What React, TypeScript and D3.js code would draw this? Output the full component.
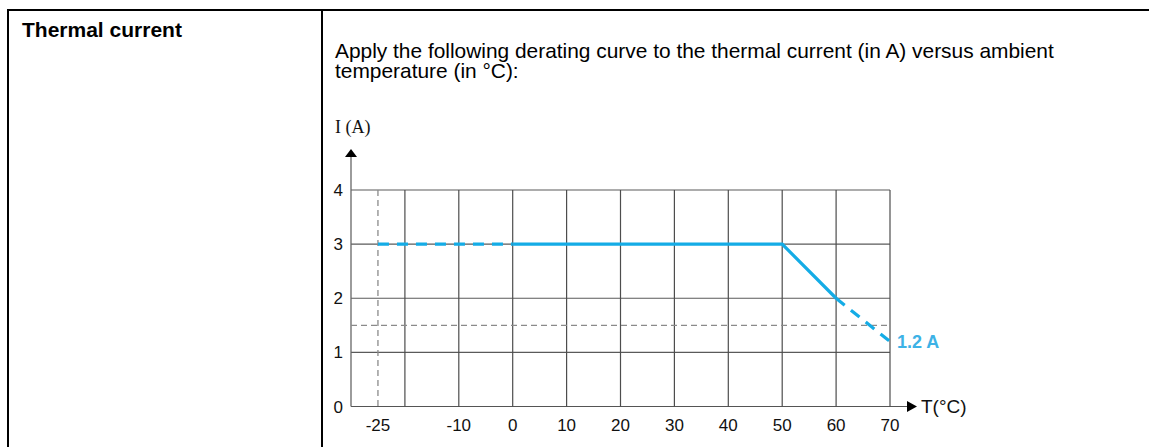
import React from "react";
import * as d3 from "d3";

// ---- data ----
const curveTemps = [-25, 0, 50, 60, 70];
const curveCurrents = [3, 3, 3, 2, 1.2];
// segment i goes from point i to point i+1; true = dashed (extrapolated) part
const curveDashed = [true, false, false, true];
const xTickLabels = [-25, -10, 0, 10, 20, 30, 40, 50, 60, 70];
const xGridValues = [-20, -10, 0, 10, 20, 30, 40, 50, 60, 70];
const yTickValues = [0, 1, 2, 3, 4];
const refTemp = -25;
const refCurrent = 1.5;
const endLabel = "1.2 A";
const rowTitle = "Thermal current";
const introLines = [
  "Apply the following derating curve to the thermal current (in A) versus ambient",
  "temperature (in °C):",
];
const yAxisTitle = "I (A)";
const xAxisTitle = "T(°C)";

const W = 1149;
const H = 447;
const SANS = "'Liberation Sans', Arial, sans-serif";
const SERIF = "'Liberation Serif', 'Times New Roman', serif";
const BLUE = "#14ace6";
const BLUE_TEXT = "#3db2e6";
const GRID = "#4d4d4d";

export default function App() {
  const x = d3.scaleLinear().domain([-30, 70]).range([351, 890]);
  const y = d3.scaleLinear().domain([0, 4]).range([406.5, 190]);
  const x0 = x(-30);
  const x1 = x(70);
  const y0 = y(0);
  const yTop = y(4);

  const line = d3
    .line<number>()
    .x((i) => x(curveTemps[i]))
    .y((i) => y(curveCurrents[i]));

  const segments: { path: string; dashed: boolean }[] = [];
  let start = 0;
  for (let s = 0; s < curveDashed.length; s++) {
    const next = s + 1 < curveDashed.length ? curveDashed[s + 1] : null;
    if (next !== curveDashed[s]) {
      const idx = d3.range(start, s + 2);
      segments.push({ path: line(idx) || "", dashed: curveDashed[s] });
      start = s + 1;
    }
  }

  const lastI = curveTemps.length - 1;

  return (
    <svg
      width={W}
      height={H}
      style={{ position: "absolute", left: 0, top: 0, background: "#fff" }}
      fontFamily={SANS}
    >
      {/* table borders */}
      <line x1={7} x2={W} y1={10} y2={10} stroke="#000" strokeWidth={2} />
      <line x1={8} x2={8} y1={9} y2={H} stroke="#000" strokeWidth={2} />
      <line x1={322} x2={322} y1={9} y2={H} stroke="#000" strokeWidth={2} />

      <text x={22} y={37} fontSize={21} fontWeight="bold" fill="#000">
        {rowTitle}
      </text>
      <text x={335} y={58} fontSize={20.9} fill="#000">
        {introLines.map((t, i) => (
          <tspan key={i} x={335} dy={i === 0 ? 0 : 19.5}>
            {t}
          </tspan>
        ))}
      </text>

      {/* grid */}
      {yTickValues.map((v) => (
        <line
          key={"h" + v}
          x1={x0}
          x2={v === 0 ? x1 + 20 : x1}
          y1={y(v)}
          y2={y(v)}
          stroke={v === 0 ? "#555" : "#5a5a5a"}
          strokeWidth={1.2}
        />
      ))}
      {xGridValues.map((v) => (
        <line
          key={"v" + v}
          x1={x(v)}
          x2={x(v)}
          y1={yTop}
          y2={y0}
          stroke={GRID}
          strokeWidth={1.2}
        />
      ))}
      {/* y axis */}
      <line x1={x0} x2={x0} y1={y0} y2={157} stroke="#666" strokeWidth={1.3} />
      <path d={`M${x0 - 6},${157} L${x0 + 6},${157} L${x0},${149} Z`} fill="#000" />
      {/* x axis arrow */}
      <path d={`M${x1 + 17},${y0 - 5.5} L${x1 + 17},${y0 + 5.5} L${x1 + 27},${y0} Z`} fill="#000" />

      {/* reference dashed lines */}
      <line
        x1={x(refTemp)}
        x2={x(refTemp)}
        y1={yTop}
        y2={y0}
        stroke="#8a8a8a"
        strokeWidth={1.3}
        strokeDasharray="6,4"
      />
      <line
        x1={x0}
        x2={x1}
        y1={y(refCurrent)}
        y2={y(refCurrent)}
        stroke="#8a8a8a"
        strokeWidth={1.3}
        strokeDasharray="6,4"
      />

      {/* derating curve */}
      {segments.map((s, i) => (
        <path
          key={i}
          d={s.path}
          fill="none"
          stroke={BLUE}
          strokeWidth={3.2}
          strokeDasharray={s.dashed ? "11,8" : undefined}
        />
      ))}
      <text
        x={x(curveTemps[lastI]) + 7}
        y={y(curveCurrents[lastI]) + 6}
        fontSize={18}
        fontWeight="bold"
        fill={BLUE_TEXT}
      >
        {endLabel}
      </text>

      {/* tick labels */}
      {yTickValues.map((v) => (
        <text key={"yl" + v} x={343} y={y(v) + 6} fontSize={17} textAnchor="end" fill="#111">
          {v}
        </text>
      ))}
      {xTickLabels.map((v) => (
        <text key={"xl" + v} x={x(v)} y={431} fontSize={17} textAnchor="middle" fill="#111">
          {v}
        </text>
      ))}

      {/* axis titles */}
      <text x={335} y={133} fontSize={18} fontFamily={SERIF} fill="#111">
        {yAxisTitle}
      </text>
      <text x={921} y={413} fontSize={19} fill="#111">
        {xAxisTitle}
      </text>
    </svg>
  );
}
